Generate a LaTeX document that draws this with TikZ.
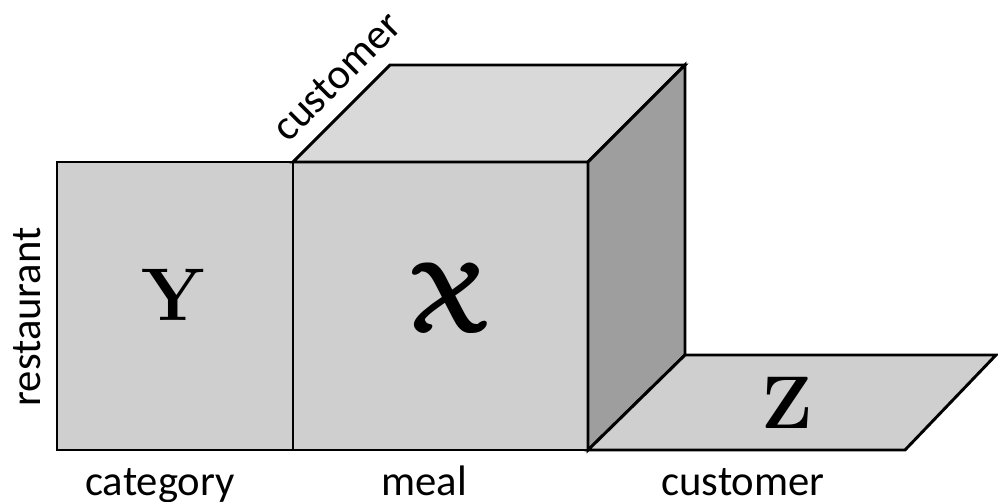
\documentclass[tikz,border=0pt]{standalone}
\usepackage{fontspec}
\usepackage{amsmath,bm}
\newfontfamily\labelfont{Carlito}
\tikzset{
  face/.style={draw=black, line width=2.2pt, line join=miter},
  lbl/.style={font=\labelfont\fontsize{32}{36}\selectfont, inner sep=0pt},
  big/.style={inner sep=0pt}
}
\begin{document}
\begin{tikzpicture}[x=0.75pt,y=-0.75pt]
\useasboundingbox (0,0) rectangle (998,502);
% corners
\coordinate (yA) at (57,162);
\coordinate (yB) at (293,162);
\coordinate (yC) at (293,450);
\coordinate (yD) at (57,450);
\coordinate (fTR) at (588,162);
\coordinate (fBR) at (588,450);
\coordinate (bTL) at (390,65);
\coordinate (bTR) at (685,65);
\coordinate (bBR) at (685,355);
\coordinate (zTR) at (996,355);
\coordinate (zBR) at (905,450);
% faces
\draw[face, fill=black!19] (yA) -- (yB) -- (yC) -- (yD) -- cycle;
\draw[face, fill=black!19] (yB) -- (fTR) -- (fBR) -- (yC) -- cycle;
\draw[face, fill=black!15] (yB) -- (bTL) -- (bTR) -- (fTR) -- cycle;
\draw[face, fill=black!38] (fTR) -- (bTR) -- (bBR) -- (fBR) -- cycle;
\draw[face, fill=black!19] (fBR) -- (bBR) -- (zTR) -- (zBR) -- cycle;
% letters
\node[big] (Y) at (173,295) {\fontsize{56}{60}\selectfont\bfseries Y};
\node[big, xslant=-0.4, transform shape] (X) at (447,298) {\Huge\scalebox{3.1}{$\bm{\mathcal{X}}$}};
\node[big] (Z) at (787,403) {\fontsize{56}{60}\selectfont\bfseries Z};
% labels
\node[lbl, anchor=base] (cat) at (160,495) {category};
\node[lbl, anchor=base] (meal) at (424,495) {meal};
\node[lbl, anchor=base] (cust) at (743,495) {customer};
\node[lbl, anchor=base, rotate=90] (rest) at (40,317) {restaurant};
\node[lbl, anchor=base, rotate=45] (cust2) at (346,86) {customer};
\end{tikzpicture}
\end{document}
